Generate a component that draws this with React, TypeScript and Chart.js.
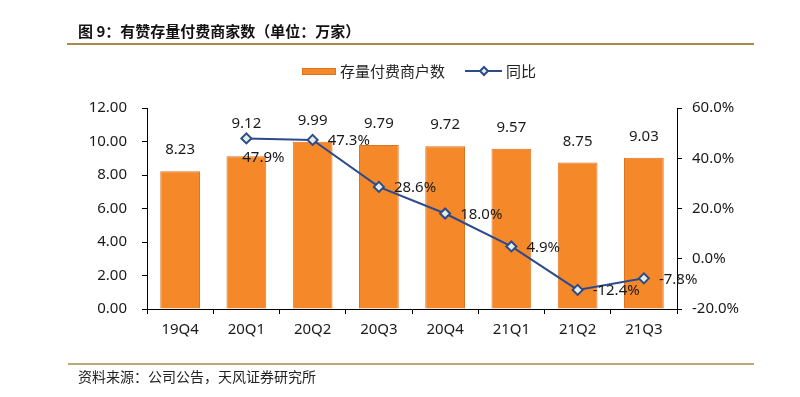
import React, { useEffect, useRef } from "react";
import { Chart, registerables } from "chart.js";

Chart.register(...registerables);

const categories = ["19Q4", "20Q1", "20Q2", "20Q3", "20Q4", "21Q1", "21Q2", "21Q3"];
const merchants = [8.23, 9.12, 9.99, 9.79, 9.72, 9.57, 8.75, 9.03];
const yoy: (number | null)[] = [null, 47.9, 47.3, 28.6, 18.0, 4.9, -12.4, -7.8];
const leftTicks = [0, 2, 4, 6, 8, 10, 12];
const rightTicks = [-20, 0, 20, 40, 60];

const TITLE = "图 9：有赞存量付费商家数（单位：万家）";
const SOURCE = "资料来源：公司公告，天风证券研究所";
const BAR_LABEL = "存量付费商户数";
const LINE_LABEL = "同比";

const BAR_COLOR = "#F5892A";
const BAR_BORDER = "#DC7420";
const LINE_COLOR = "#2C4A8C";
const MARKER_FILL = "#E4EEDF";
const RULE_COLOR = "#A68A4E";
const NUM_FONT = '"Noto Sans", "Noto Sans CJK SC", sans-serif';
const CJK_FONT = '"Noto Sans CJK SC", "Noto Sans", sans-serif';

const decorPlugin = {
  id: "decor",
  afterDraw(chart: any) {
    const ctx = chart.ctx as CanvasRenderingContext2D;
    ctx.save();
    // title
    ctx.fillStyle = "#111";
    ctx.font = `bold 15px ${CJK_FONT}`;
    ctx.textBaseline = "middle";
    ctx.textAlign = "left";
    ctx.fillText(TITLE, 78, 31);
    // rules
    ctx.strokeStyle = RULE_COLOR;
    ctx.lineWidth = 2;
    ctx.beginPath();
    ctx.moveTo(67, 44);
    ctx.lineTo(754, 44);
    ctx.stroke();
    ctx.lineWidth = 1.5;
    ctx.beginPath();
    ctx.moveTo(68, 364);
    ctx.lineTo(754, 364);
    ctx.stroke();
    // source
    ctx.fillStyle = "#222";
    ctx.font = `14px ${CJK_FONT}`;
    ctx.fillText(SOURCE, 78, 377);
    // legend
    ctx.fillStyle = BAR_COLOR;
    ctx.fillRect(302, 68, 34, 7);
    ctx.strokeStyle = BAR_BORDER;
    ctx.lineWidth = 1;
    ctx.strokeRect(302.5, 68.5, 33, 6);
    ctx.fillStyle = "#222";
    ctx.font = `15px ${CJK_FONT}`;
    ctx.fillText(BAR_LABEL, 340, 71);
    ctx.strokeStyle = LINE_COLOR;
    ctx.lineWidth = 2;
    ctx.beginPath();
    ctx.moveTo(465, 71);
    ctx.lineTo(502, 71);
    ctx.stroke();
    ctx.beginPath();
    ctx.moveTo(484, 67);
    ctx.lineTo(488, 71);
    ctx.lineTo(484, 75);
    ctx.lineTo(480, 71);
    ctx.closePath();
    ctx.fillStyle = MARKER_FILL;
    ctx.fill();
    ctx.stroke();
    ctx.fillStyle = "#222";
    ctx.fillText(LINE_LABEL, 506, 71);

    // data labels
    const barMeta = chart.getDatasetMeta(1);
    const lineMeta = chart.getDatasetMeta(0);
    ctx.font = `15px ${NUM_FONT}`;
    ctx.fillStyle = "#1a1a1a";
    barMeta.data.forEach((bar: any, i: number) => {
      let y = bar.y - 21;
      const pt = lineMeta.data[i];
      if (yoy[i] !== null && pt && Math.abs(y - pt.y) < 14) y = pt.y - 15;
      ctx.textAlign = "center";
      ctx.fillText(merchants[i].toFixed(2), bar.x, y);
    });
    lineMeta.data.forEach((pt: any, i: number) => {
      const v = yoy[i];
      if (v === null) return;
      const txt = v.toFixed(1) + "%";
      const next = lineMeta.data[i + 1];
      if (next && yoy[i + 1] !== null && Math.abs(next.y - pt.y) < 8) {
        ctx.textAlign = "center";
        ctx.fillText(txt, pt.x + 17, pt.y + 19);
      } else {
        ctx.textAlign = "left";
        ctx.fillText(txt, pt.x + 15, pt.y + 1);
      }
    });
    ctx.restore();
  },
};

export default function App() {
  const ref = useRef<HTMLCanvasElement | null>(null);
  useEffect(() => {
    document.body.style.margin = "0";
    const canvas = ref.current;
    if (!canvas) return;
    const chart = new Chart(canvas, {
      type: "bar",
      data: {
        labels: categories,
        datasets: [
          {
            type: "line",
            label: LINE_LABEL,
            data: yoy,
            yAxisID: "y1",
            borderColor: LINE_COLOR,
            borderWidth: 2,
            pointStyle: "rectRot",
            pointRadius: 5,
            pointBorderWidth: 2,
            pointBackgroundColor: MARKER_FILL,
            pointBorderColor: LINE_COLOR,
            tension: 0,
            order: 0,
          } as any,
          {
            type: "bar",
            label: BAR_LABEL,
            data: merchants,
            yAxisID: "y",
            backgroundColor: BAR_COLOR,
            borderColor: BAR_BORDER,
            borderWidth: 1,
            barPercentage: 0.6,
            categoryPercentage: 1,
            order: 1,
          },
        ],
      },
      options: {
        responsive: false,
        animation: false,
        devicePixelRatio: 1,
        layout: { padding: { top: 108, bottom: 0, left: 0, right: 0 } },
        plugins: { legend: { display: false }, tooltip: { enabled: false } },
        scales: {
          x: {
            afterFit: (s: any) => {
              s.height = 88;
            },
            grid: {
              display: true,
              drawOnChartArea: false,
              drawTicks: true,
              tickLength: 5,
              color: "#000",
              offset: true,
            },
            border: { display: true, color: "#000", width: 1 },
            ticks: { color: "#1a1a1a", font: { family: NUM_FONT, size: 15 }, padding: 7 },
          },
          y: {
            position: "left",
            min: leftTicks[0],
            max: leftTicks[leftTicks.length - 1],
            afterFit: (s: any) => {
              s.width = 147;
            },
            afterBuildTicks: (s: any) => {
              s.ticks = leftTicks.map((v) => ({ value: v }));
            },
            grid: { display: true, drawOnChartArea: false, tickLength: 5, color: "#000" },
            border: { display: true, color: "#000", width: 1 },
            ticks: {
              color: "#1a1a1a",
              font: { family: NUM_FONT, size: 15 },
              padding: 15,
              callback: (v: any) => Number(v).toFixed(2),
            },
          },
          y1: {
            position: "right",
            min: rightTicks[0],
            max: rightTicks[rightTicks.length - 1],
            afterFit: (s: any) => {
              s.width = 123;
            },
            afterBuildTicks: (s: any) => {
              s.ticks = rightTicks.map((v) => ({ value: v }));
            },
            grid: { display: true, drawOnChartArea: false, tickLength: 5, color: "#000" },
            border: { display: true, color: "#000", width: 1 },
            ticks: {
              color: "#1a1a1a",
              font: { family: NUM_FONT, size: 15 },
              padding: 10,
              callback: (v: any) => Number(v).toFixed(1) + "%",
            },
          },
        },
      },
      plugins: [decorPlugin],
    });
    return () => chart.destroy();
  }, []);
  return (
    <div style={{ width: 800, height: 397, background: "#fff" }}>
      <canvas ref={ref} width={800} height={397} />
    </div>
  );
}
